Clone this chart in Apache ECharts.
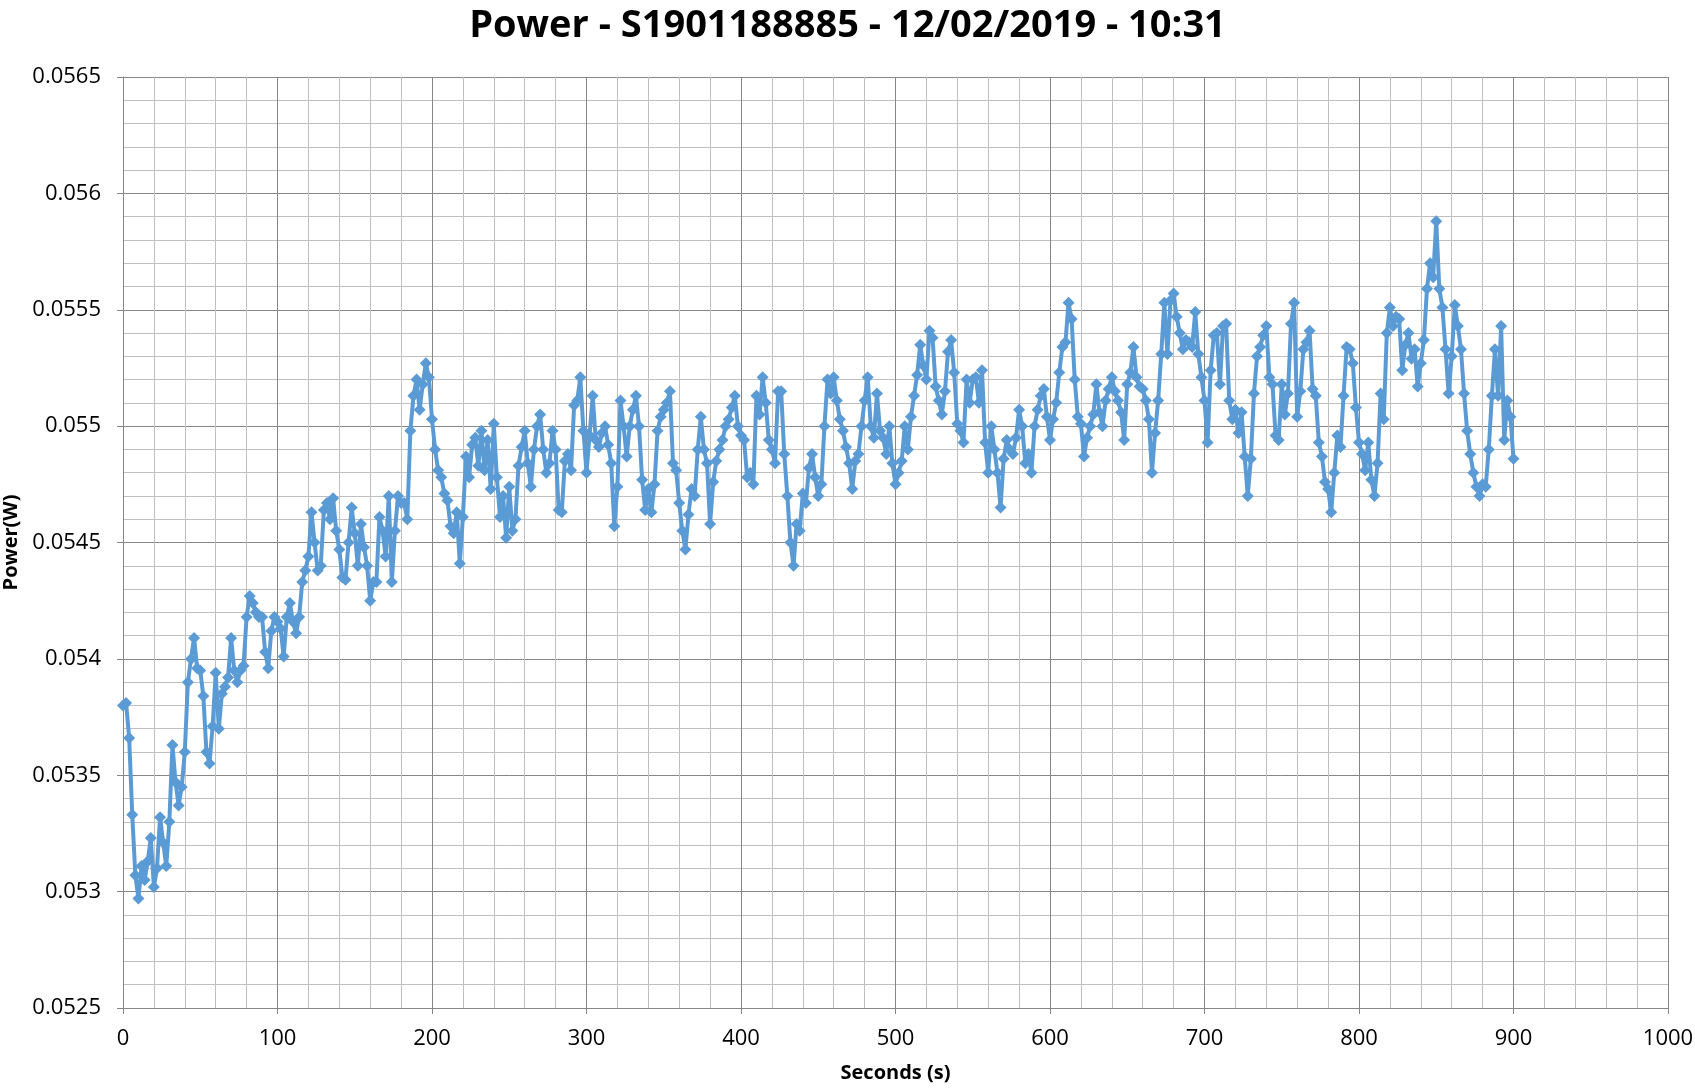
<!DOCTYPE html>
<html>
<head>
<meta charset="utf-8">
<script src="https://cdn.jsdelivr.net/npm/echarts@6/dist/echarts.min.js"></script>
<style>html,body{margin:0;padding:0;background:#fff}#c{width:1695px;height:1091px}</style>
</head>
<body>
<div id="c"></div>
<script>
const chartTitle = "Power - S1901188885 - 12/02/2019 - 10:31";
const xName = "Seconds (s)";
const yName = "Power(W)";
const xTicks = [0,100,200,300,400,500,600,700,800,900,1000];
const yTicks = [0.0525,0.053,0.0535,0.054,0.0545,0.055,0.0555,0.056,0.0565];

const seconds = [
0,2,4,6,8,10,12,14,16,18,20,22,24,26,28,30,32,34,36,38,40,42,44,46,48,50,52,54,56,58,
60,62,64,66,68,70,72,74,76,78,80,82,84,86,88,90,92,94,96,98,100,102,104,106,108,110,112,114,116,118,
120,122,124,126,128,130,132,134,136,138,140,142,144,146,148,150,152,154,156,158,160,162,164,166,168,170,172,174,176,178,
180,182,184,186,188,190,192,194,196,198,200,202,204,206,208,210,212,214,216,218,220,222,224,226,228,230,232,234,236,238,
240,242,244,246,248,250,252,254,256,258,260,262,264,266,268,270,272,274,276,278,280,282,284,286,288,290,292,294,296,298,
300,302,304,306,308,310,312,314,316,318,320,322,324,326,328,330,332,334,336,338,340,342,344,346,348,350,352,354,356,358,
360,362,364,366,368,370,372,374,376,378,380,382,384,386,388,390,392,394,396,398,400,402,404,406,408,410,412,414,416,418,
420,422,424,426,428,430,432,434,436,438,440,442,444,446,448,450,452,454,456,458,460,462,464,466,468,470,472,474,476,478,
480,482,484,486,488,490,492,494,496,498,500,502,504,506,508,510,512,514,516,518,520,522,524,526,528,530,532,534,536,538,
540,542,544,546,548,550,552,554,556,558,560,562,564,566,568,570,572,574,576,578,580,582,584,586,588,590,592,594,596,598,
600,602,604,606,608,610,612,614,616,618,620,622,624,626,628,630,632,634,636,638,640,642,644,646,648,650,652,654,656,658,
660,662,664,666,668,670,672,674,676,678,680,682,684,686,688,690,692,694,696,698,700,702,704,706,708,710,712,714,716,718,
720,722,724,726,728,730,732,734,736,738,740,742,744,746,748,750,752,754,756,758,760,762,764,766,768,770,772,774,776,778,
780,782,784,786,788,790,792,794,796,798,800,802,804,806,808,810,812,814,816,818,820,822,824,826,828,830,832,834,836,838,
840,842,844,846,848,850,852,854,856,858,860,862,864,866,868,870,872,874,876,878,880,882,884,886,888,890,892,894,896,898,
900
];

const power = [
0.05380,0.05381,0.05366,0.05333,0.05307,0.05297,0.05311,0.05305,0.05313,0.05323,0.05302,0.05310,0.05332,0.05321,0.05311,0.05330,0.05363,0.05347,0.05337,0.05345,0.05360,0.05390,0.05400,0.05409,0.05396,0.05395,0.05384,0.05360,0.05355,0.05371,
0.05394,0.05370,0.05385,0.05388,0.05392,0.05409,0.05395,0.05390,0.05395,0.05397,0.05418,0.05427,0.05424,0.05420,0.05418,0.05418,0.05403,0.05396,0.05412,0.05418,0.05416,0.05413,0.05401,0.05418,0.05424,0.05416,0.05411,0.05418,0.05433,0.05438,
0.05444,0.05463,0.05450,0.05438,0.05440,0.05464,0.05467,0.05460,0.05469,0.05455,0.05447,0.05435,0.05434,0.05450,0.05465,0.05454,0.05440,0.05458,0.05448,0.05440,0.05425,0.05433,0.05433,0.05461,0.05455,0.05444,0.05470,0.05433,0.05455,0.05470,
0.05467,0.05467,0.05460,0.05498,0.05513,0.05520,0.05507,0.05518,0.05527,0.05521,0.05503,0.05490,0.05481,0.05478,0.05471,0.05468,0.05457,0.05454,0.05463,0.05441,0.05461,0.05487,0.05478,0.05492,0.05495,0.05483,0.05498,0.05481,0.05494,0.05473,
0.05501,0.05478,0.05461,0.05470,0.05452,0.05474,0.05455,0.05460,0.05483,0.05491,0.05498,0.05484,0.05474,0.05490,0.05500,0.05505,0.05490,0.05480,0.05484,0.05498,0.05490,0.05464,0.05463,0.05485,0.05488,0.05481,0.05509,0.05511,0.05521,0.05498,
0.05480,0.05496,0.05513,0.05494,0.05491,0.05497,0.05500,0.05492,0.05484,0.05457,0.05474,0.05511,0.05500,0.05487,0.05500,0.05507,0.05513,0.05500,0.05477,0.05464,0.05473,0.05463,0.05475,0.05498,0.05504,0.05507,0.05510,0.05515,0.05484,0.05481,
0.05467,0.05455,0.05447,0.05462,0.05473,0.05470,0.05490,0.05504,0.05490,0.05484,0.05458,0.05476,0.05485,0.05490,0.05494,0.05500,0.05503,0.05508,0.05513,0.05500,0.05496,0.05494,0.05478,0.05480,0.05475,0.05513,0.05505,0.05521,0.05510,0.05494,
0.05490,0.05484,0.05515,0.05515,0.05488,0.05470,0.05450,0.05440,0.05458,0.05455,0.05471,0.05467,0.05482,0.05488,0.05478,0.05470,0.05475,0.05500,0.05520,0.05514,0.05521,0.05511,0.05503,0.05498,0.05491,0.05484,0.05473,0.05485,0.05488,0.05500,
0.05511,0.05521,0.05500,0.05495,0.05514,0.05498,0.05495,0.05488,0.05500,0.05484,0.05475,0.05480,0.05485,0.05500,0.05490,0.05504,0.05513,0.05522,0.05535,0.05526,0.05520,0.05541,0.05538,0.05517,0.05511,0.05505,0.05515,0.05532,0.05537,0.05523,
0.05501,0.05498,0.05493,0.05520,0.05510,0.05520,0.05521,0.05510,0.05524,0.05493,0.05480,0.05500,0.05490,0.05480,0.05465,0.05486,0.05494,0.05490,0.05488,0.05495,0.05507,0.05500,0.05484,0.05488,0.05480,0.05500,0.05507,0.05513,0.05516,0.05504,
0.05494,0.05503,0.05510,0.05523,0.05534,0.05536,0.05553,0.05546,0.05520,0.05504,0.05501,0.05487,0.05495,0.05500,0.05505,0.05518,0.05506,0.05500,0.05511,0.05516,0.05521,0.05515,0.05511,0.05506,0.05494,0.05518,0.05523,0.05534,0.05521,0.05517,
0.05516,0.05511,0.05503,0.05480,0.05497,0.05511,0.05531,0.05553,0.05531,0.05554,0.05557,0.05547,0.05540,0.05533,0.05537,0.05536,0.05534,0.05549,0.05531,0.05521,0.05511,0.05493,0.05524,0.05539,0.05540,0.05518,0.05543,0.05544,0.05511,0.05503,
0.05507,0.05497,0.05506,0.05487,0.05470,0.05486,0.05514,0.05530,0.05534,0.05539,0.05543,0.05521,0.05518,0.05496,0.05494,0.05518,0.05505,0.05514,0.05544,0.05553,0.05504,0.05515,0.05533,0.05536,0.05541,0.05516,0.05513,0.05493,0.05487,0.05476,
0.05473,0.05463,0.05480,0.05496,0.05491,0.05513,0.05534,0.05533,0.05527,0.05508,0.05493,0.05488,0.05481,0.05493,0.05477,0.05470,0.05484,0.05514,0.05503,0.05540,0.05551,0.05543,0.05547,0.05546,0.05524,0.05535,0.05540,0.05529,0.05533,0.05517,
0.05527,0.05537,0.05559,0.05570,0.05564,0.05588,0.05559,0.05551,0.05533,0.05514,0.05530,0.05552,0.05543,0.05533,0.05514,0.05498,0.05488,0.05480,0.05474,0.05470,0.05475,0.05474,0.05490,0.05513,0.05533,0.05513,0.05543,0.05494,0.05511,0.05504,
0.05486
];

const seriesData = seconds.map((s, i) => [s, power[i]]);
const FONT = '"Open Sans", "Liberation Sans", sans-serif';
const chart = echarts.init(document.getElementById('c'), null, {renderer: 'canvas'});
chart.setOption({
  animation: false,
  backgroundColor: '#ffffff',
  title: {
    text: chartTitle,
    left: 'center',
    top: 2,
    textStyle: {fontFamily: FONT, fontSize: 38, fontWeight: 'bold', color: '#000'}
  },
  grid: {left: 123, right: 27, top: 77, bottom: 83, containLabel: false, outerBoundsMode: 'none'},
  xAxis: {
    type: 'value',
    min: xTicks[0], max: xTicks[xTicks.length - 1], interval: 100,
    name: xName, nameLocation: 'middle', nameGap: 55,
    nameTextStyle: {fontFamily: FONT, fontSize: 20, fontWeight: 'bold', color: '#000'},
    axisLine: {show: true, lineStyle: {color: '#868686', width: 1}},
    axisTick: {show: true, inside: false, length: 6, lineStyle: {color: '#868686'}},
    axisLabel: {fontFamily: FONT, fontSize: 22, color: '#000', margin: 20,
      formatter: v => String(v)},
    splitLine: {show: true, lineStyle: {color: '#868686', width: 1}},
    minorTick: {show: false, splitNumber: 5},
    minorSplitLine: {show: true, lineStyle: {color: '#c0c0c0', width: 1}}
  },
  yAxis: {
    type: 'value',
    min: yTicks[0], max: yTicks[yTicks.length - 1], interval: 0.0005,
    name: yName, nameLocation: 'middle', nameGap: 96, nameRotate: 90,
    nameTextStyle: {fontFamily: FONT, fontSize: 20, fontWeight: 'bold', color: '#000'},
    axisLine: {show: true, lineStyle: {color: '#868686', width: 1}},
    axisTick: {show: true, inside: false, length: 6, lineStyle: {color: '#868686'}},
    axisLabel: {fontFamily: FONT, fontSize: 22, color: '#000', margin: 22,
      formatter: v => String(parseFloat(v.toFixed(4)))},
    splitLine: {show: true, lineStyle: {color: '#868686', width: 1}},
    minorTick: {show: false, splitNumber: 5},
    minorSplitLine: {show: true, lineStyle: {color: '#c0c0c0', width: 1}}
  },
  series: [{
    type: 'line',
    data: seriesData,
    symbol: 'diamond',
    symbolSize: 12,
    showAllSymbol: true,
    lineStyle: {color: '#5B9BD5', width: 4},
    itemStyle: {color: '#5B9BD5'},
    emphasis: {disabled: true}
  }]
});
</script>
</body>
</html>
